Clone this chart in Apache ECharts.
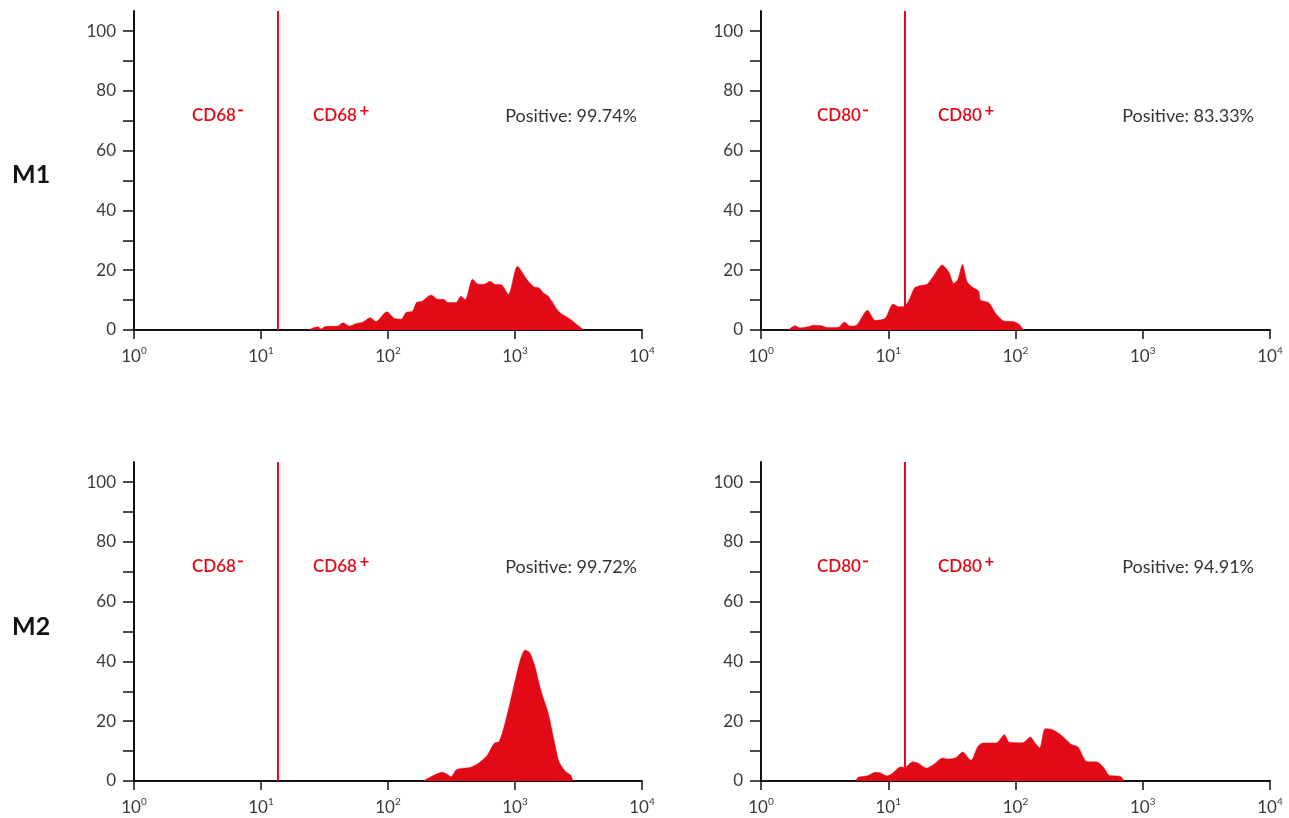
<!DOCTYPE html>
<html>
<head>
<meta charset="utf-8">
<script src="https://cdn.jsdelivr.net/npm/echarts@6/dist/echarts.min.js"></script>
<style>
html,body{margin:0;padding:0;background:#fff;}
#chart{width:1289px;height:818px;}
</style>
</head>
<body>
<div id="chart"></div>
<script>
// ---- Data (fluorescence intensity on log axis, % of max count) ----
const m1CD68_x = [23.4,28.1,29.8,31.6,40.3,44.1,49.8,56.1,63.1,72.3,80.5,97.7,112,127,139,156,168,187,218,245,277,294,343,375,406,463,516,571,634,706,773,887,1045,1250,1413,1545,1671,1828,2218,2661,3090,3491];
const m1CD68_y = [0,1.1,0.3,1.1,1.3,2.4,1.3,2.2,2.6,4.1,2.8,6.1,3.9,3.6,5.9,6.3,9.2,9.7,11.7,10.3,10.2,9.2,9.2,11.3,10.2,17,15.3,15.3,16.3,15.2,15.2,11.9,21.3,16.7,14.4,14.1,12.4,11.3,6.1,3.9,1.7,0];

const m1CD80_x = [1.64,1.85,2.03,2.36,2.58,3.01,3.29,4.06,4.53,5.02,5.66,6.87,7.91,9.46,10.9,12.05,13.2,14.5,16.1,17.9,20.2,22.5,26.5,29.9,32.7,35.2,38.3,41.7,45.6,51.4,53,61.7,69.7,80.9,97,106,116];
const m1CD80_y = [0,1.4,0.7,1.1,1.6,1.4,0.8,0.9,2.7,1.3,1.7,6.6,3.2,3.9,8.7,7.8,7.8,9.8,14.1,14.9,15.3,17.8,21.7,19.4,15.6,16.9,21.9,16.1,14.4,13,10,9.1,5.6,3,2.8,2,0];

const m2CD68_x = [190,269,291,313,343,375,450,522,607,685,750,847,984,1091,1199,1306,1439,1596,1828,2028,2218,2506,2742,2858];
const m2CD68_y = [0,2.9,2.3,1.4,3.7,4.2,4.6,6.1,8.7,12.6,13.2,20.4,32.1,39.9,43.8,42.9,38.2,30.4,22.6,13.7,6.5,3.1,2,0];

const m2CD80_x = [5.52,5.86,6.82,7.94,8.69,9.82,10.7,12.5,13.5,15.5,17.1,20,22.9,26.7,29.2,34,38.4,44.7,50.4,55.2,70.3,81.7,89.5,114,131,141,155,171,194,229,275,310,366,433,489,551,661,716];
const m2CD80_y = [0,1.3,1.7,2.9,2.7,1.7,2.5,4.7,4.5,6.4,6,4.3,5.6,7.7,7.4,7.8,9.7,6.9,11.4,12.7,12.7,15.5,13,12.8,14.7,13,11.1,17.5,17.2,15.3,12.2,11.4,6.4,6.4,4.7,1.8,1.6,0];

const gateCD68 = 13.5;
const gateCD80 = 13.4;

const rowLabels = ['M1','M2'];
const markerNames = ['CD68','CD80'];
const positiveText = ['Positive: 99.74%','Positive: 83.33%','Positive: 99.72%','Positive: 94.91%'];

const yTicks = [0,10,20,30,40,50,60,70,80,90,100];
const yLabels = [0,20,40,60,80,100];

// ---- Build ----
const RED = '#E30A17';
const FONT = 'Lato, "Noto Sans", sans-serif';
const pair = (xs, ys) => xs.map((x, i) => [x, ys[i]]);

const panels = [
  {data: pair(m1CD68_x, m1CD68_y), gate: gateCD68, left: 134, top: 11, width: 508},
  {data: pair(m1CD80_x, m1CD80_y), gate: gateCD80, left: 761, top: 11, width: 509},
  {data: pair(m2CD68_x, m2CD68_y), gate: gateCD68, left: 134, top: 462, width: 508},
  {data: pair(m2CD80_x, m2CD80_y), gate: gateCD80, left: 761, top: 462, width: 509}
];

const grid = [], xAxis = [], yAxis = [], series = [];
panels.forEach((p, i) => {
  grid.push({left: p.left, top: p.top, width: p.width, height: 319, containLabel: false});
  xAxis.push({
    type: 'log', logBase: 10, min: 1, max: 10000, gridIndex: i,
    axisLine: {lineStyle: {color: '#111', width: 2}},
    axisTick: {show: true, inside: false, length: 9, lineStyle: {color: '#111', width: 1.5}},
    axisLabel: {
      color: '#3a3a3a', fontFamily: FONT, fontSize: 17, margin: 16,
      formatter: v => '{b|10}{s|' + Math.round(Math.log10(v)) + '}',
      rich: {
        b: {fontFamily: FONT, fontSize: 17, color: '#3a3a3a', lineHeight: 22},
        s: {fontFamily: FONT, fontSize: 10, color: '#3a3a3a', verticalAlign: 'top', lineHeight: 13}
      }
    },
    splitLine: {show: false}, minorTick: {show: false}
  });
  yAxis.push({
    type: 'value', min: 0, max: 106.7, gridIndex: i,
    axisLine: {show: true, lineStyle: {color: '#111', width: 2}},
    axisTick: {show: true, length: 11, customValues: yTicks, lineStyle: {color: '#111', width: 1.5}},
    axisLabel: {color: '#3a3a3a', fontFamily: FONT, fontSize: 17, margin: 18, customValues: yLabels},
    splitLine: {show: false}
  });
  series.push({
    type: 'line', xAxisIndex: i, yAxisIndex: i, data: p.data,
    smooth: 0.25, symbol: 'none', silent: true,
    lineStyle: {width: 0.5, color: RED},
    areaStyle: {color: RED, opacity: 1},
    markLine: {
      silent: true, symbol: ['none','none'], label: {show: false},
      lineStyle: {color: RED, width: 2, type: 'solid'},
      data: [{xAxis: p.gate}]
    },
    z: 1
  });
});

const graphic = [];
rowLabels.forEach((t, r) => {
  graphic.push({type: 'text', left: 12, top: r === 0 ? 162 : 614,
    style: {text: t, font: 'bold 25px ' + FONT, fill: '#111'}});
});
panels.forEach((p, i) => {
  const col = i % 2, row = Math.floor(i / 2);
  const yC = row === 0 ? 116 : 567;
  const name = markerNames[col];
  const negX = col === 0 ? 192 : 817;
  const posX = col === 0 ? 313 : 938;
  const rightX = col === 0 ? 637 : 1254;
  // marker name (negative gate)
  graphic.push({type: 'text', x: negX, y: yC,
    style: {text: name, font: '600 17px ' + FONT, fill: RED, verticalAlign: 'middle', align: 'left'}});
  graphic.push({type: 'rect', shape: {x: negX + 46, y: yC - 6.5, width: 5, height: 1.8},
    style: {fill: RED}});
  // marker name (positive gate)
  graphic.push({type: 'text', x: posX, y: yC,
    style: {text: name, font: '600 17px ' + FONT, fill: RED, verticalAlign: 'middle', align: 'left'}});
  graphic.push({type: 'text', x: posX + 51.5, y: yC - 5,
    style: {text: '+', font: 'bold 17px ' + FONT, fill: RED, verticalAlign: 'middle', align: 'center'}});
  graphic.push({type: 'text', x: rightX, y: yC,
    style: {text: positiveText[i], font: '18px ' + FONT, fill: '#333', verticalAlign: 'middle', align: 'right'}});
});

const chart = echarts.init(document.getElementById('chart'), null, {renderer: 'canvas'});
chart.setOption({
  backgroundColor: '#fff',
  animation: false,
  grid, xAxis, yAxis, series, graphic
});
</script>
</body>
</html>
